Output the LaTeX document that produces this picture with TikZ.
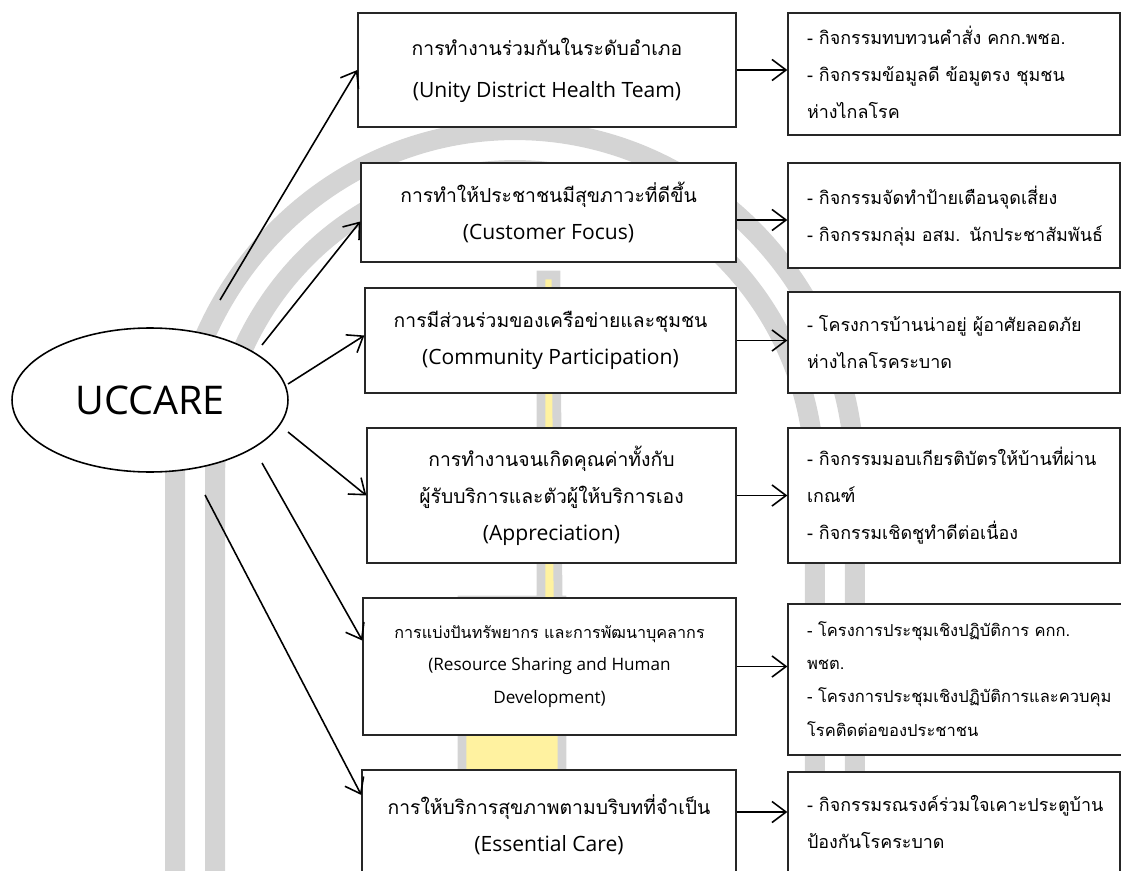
\documentclass[tikz,border=0pt]{standalone}
\usepackage{fontspec}
\setmainfont{Open Sans}
\newfontfamily\thai[Script=Thai]{Loma}
\usetikzlibrary{arrows.meta,positioning,shapes.geometric,calc,backgrounds}
\definecolor{markgray}{HTML}{D4D4D4}
\definecolor{markyellow}{HTML}{FFF2A0}
\definecolor{edge}{HTML}{262626}
\newcommand{\thl}{\thai\fontsize{11}{21}\selectfont}
\newcommand{\thsmall}{\thai\fontsize{9.2}{19}\selectfont}
\newcommand{\actlines}[1]{\begin{tabular}{@{}l@{}}#1\end{tabular}}
\tikzset{
  stagebox/.style={
    rectangle, draw=edge, fill=white, line width=0.8pt,
    align=center, inner sep=0pt,
    font=\fontsize{12}{21}\selectfont
  },
  actbox/.style={
    rectangle, draw=edge, fill=white, line width=0.8pt,
    align=left, inner xsep=0.38cm, inner ysep=0pt,
    text width=5.88cm, minimum width=6.64cm,
    font=\thai\fontsize{10.2}{21}\selectfont
  },
  flow/.style={
    -{Straight Barb[length=8pt,width=12pt,line width=0.9pt]}, line width=0.9pt, color=black
  },
  markband/.style={
    draw=markgray, line width=0.4cm
  },
}

\begin{document}
\begin{tikzpicture}[x=0.02cm,y=-0.02cm]
  \useasboundingbox (0,0) rectangle (1121,871);
  \clip (0,0) rectangle (1121,871);

  % watermark behind the diagram
  \draw[markband] (175,871) -- (175,480)
    arc[start angle=180, end angle=0, x radius=6.8cm, y radius=7cm] -- (855,871);
  \draw[markband] (215,871) -- (215,480)
    arc[start angle=180, end angle=0, x radius=6cm, y radius=6.2cm] -- (815,871);
  \filldraw[fill=markyellow, draw=markgray, line width=5pt]
    (541,275) -- (556,275) -- (558,600) -- (562,600) -- (562,871)
    -- (462,871) -- (462,600) -- (541,600) -- cycle;

  % UCCARE
  \node[ellipse, draw=black, line width=0.9pt, fill=white,
        minimum width=5.52cm, minimum height=2.88cm,
        font=\fontsize{22.5}{26}\selectfont] (uccare) at (150,400) {UCCARE};

  % components
  \node[stagebox, minimum width=7.56cm, minimum height=2.28cm] (b1) at (547,70)
    {{\thl การทำงานร่วมกันในระดับอำเภอ}\\[3pt](Unity District Health Team)};
  \node[stagebox, minimum width=7.5cm, minimum height=1.98cm] (b2) at (548.5,212.5)
    {{\thl การทำให้ประชาชนมีสุขภาวะที่ดีขึ้น}\\(Customer Focus)};
  \node[stagebox, minimum width=7.42cm, minimum height=2.1cm] (b3) at (550.5,340.5)
    {{\thl การมีส่วนร่วมของเครือข่ายและชุมชน}\\(Community Participation)};
  \node[stagebox, minimum width=7.38cm, minimum height=2.7cm] (b4) at (551.5,495.5)
    {{\thl การทำงานจนเกิดคุณค่าทั้งกับ}\\{\thl ผู้รับบริการและตัวผู้ให้บริการเอง}\\(Appreciation)};
  \node[stagebox, minimum width=7.46cm, minimum height=2.74cm,
        font=\fontsize{9.75}{18.5}\selectfont] (b5) at (549.5,666.5)
    {{\thsmall การแบ่งปันทรัพยากร และการพัฒนาบุคลากร}\\(Resource Sharing and Human\\Development)};
  \node[stagebox, minimum width=7.48cm, minimum height=2.2cm] (b6) at (549,825)
    {{\thl การให้บริการสุขภาพตามบริบทที่จำเป็น}\\(Essential Care)};

  % activities
  \node[actbox, minimum height=2.44cm] (r1) at (954,74)
    {\actlines{- กิจกรรมทบทวนคำสั่ง คกก.พชอ.\\- กิจกรรมข้อมูลดี ข้อมูตรง ชุมชน\\ห่างไกลโรค}};
  \node[actbox, minimum height=2.1cm] (r2) at (954,215.5)
    {\actlines{- กิจกรรมจัดทำป้ายเตือนจุดเสี่ยง\\- กิจกรรมกลุ่ม อสม. นักประชาสัมพันธ์}};
  \node[actbox, minimum height=2.02cm] (r3) at (954,342.5)
    {\actlines{- โครงการบ้านน่าอยู่ ผู้อาศัยลอดภัย\\ห่างไกลโรคระบาด}};
  \node[actbox, minimum height=2.7cm] (r4) at (954,495.5)
    {\actlines{- กิจกรรมมอบเกียรติบัตรให้บ้านที่ผ่าน\\เกณฑ์\\- กิจกรรมเชิดชูทำดีต่อเนื่อง}};
  \node[actbox, minimum height=3.02cm, minimum width=7cm, text width=6.24cm,
        font=\thai\fontsize{9.4}{19}\selectfont] (r5) at (963,679.5)
    {\actlines{- โครงการประชุมเชิงปฏิบัติการ คกก.\\พชต.\\- โครงการประชุมเชิงปฏิบัติการและควบคุม\\โรคติดต่อของประชาชน}};
  \node[actbox, minimum height=2.02cm] (r6) at (954,822.5)
    {\actlines{- กิจกรรมรณรงค์ร่วมใจเคาะประตูบ้าน\\ป้องกันโรคระบาด}};

  % spokes from UCCARE
  \coordinate (s1) at (220,300);
  \coordinate (s2) at (262,345);
  \coordinate (s3) at (288,384);
  \coordinate (s4) at (288,432);
  \coordinate (s5) at (262,463);
  \coordinate (s6) at (205,495);
  \draw[flow] (s1) -- (b1.west);
  \draw[flow] (s2) -- ([yshift=-0.18cm]b2.west);
  \draw[flow] (s3) -- ([yshift=0.1cm]b3.west);
  \draw[flow] (s4) -- (b4.west);
  \draw[flow] (s5) -- ([yshift=0.52cm]b5.west);
  \draw[flow] (s6) -- ([yshift=0.6cm]b6.west);

  % components to activities
  \draw[flow] (b1.east) -- (b1.east -| r1.west);
  \draw[flow] ([yshift=-0.15cm]b2.east) -- ([yshift=-0.15cm]b2.east -| r2.west);
  \draw[flow] (b3.east) -- (b3.east -| r3.west);
  \draw[flow] (b4.east) -- (b4.east -| r4.west);
  \draw[flow] (b5.east) -- (b5.east -| r5.west);
  \draw[flow] ([yshift=0.26cm]b6.east) -- ([yshift=0.26cm]b6.east -| r6.west);
\end{tikzpicture}
\end{document}
